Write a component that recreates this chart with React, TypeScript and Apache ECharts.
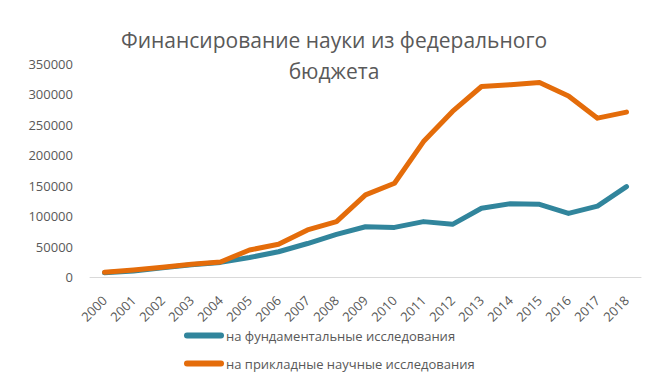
import React, { useEffect, useRef } from "react";
import * as echarts from "echarts";

const years = ["2000","2001","2002","2003","2004","2005","2006","2007","2008","2009","2010","2011","2012","2013","2014","2015","2016","2017","2018"];
const fundamental = [7000, 10000, 15000, 20000, 24000, 32000, 41500, 55000, 70000, 82500, 81500, 91000, 86500, 113000, 120500, 119500, 104500, 116500, 148500];
const applied = [7700, 11500, 16000, 20800, 24700, 44400, 53700, 77300, 91000, 135000, 154000, 222500, 272000, 313000, 316000, 319500, 297500, 261000, 271000];
const seriesNames = ["на фундаментальные исследования", "на прикладные научные исследования"];
const titleText = "Финансирование науки из федерального\nбюджета";

const capsule = "path://M3,0 L37,0 A3,3 0 0 1 37,6 L3,6 A3,3 0 0 1 3,0 Z";

export default function App() {
  const ref = useRef<HTMLDivElement>(null);
  useEffect(() => {
    const chart = echarts.init(ref.current!, null, { renderer: "svg" });
    const font = "'Open Sans', sans-serif";
    chart.setOption({
      animation: false,
      backgroundColor: "#ffffff",
      title: {
        text: titleText,
        left: 329,
        top: 19,
        textAlign: "center",
        textStyle: { fontFamily: font, fontSize: 21, fontWeight: "normal", color: "#595959", lineHeight: 31, align: "center" },
      },
      legend: {
        orient: "vertical",
        left: 179,
        top: 324,
        itemWidth: 40,
        itemHeight: 6,
        itemGap: 15,
        icon: capsule,
        textStyle: { fontFamily: font, fontSize: 13, color: "#595959", padding: [0, 0, 0, -3] },
        data: seriesNames,
      },
      grid: { left: 90, right: 25, top: 64, bottom: 114 },
      xAxis: {
        type: "category",
        data: years,
        boundaryGap: true,
        axisLine: { lineStyle: { color: "#d9d9d9", width: 1 } },
        axisTick: { show: false },
        axisLabel: { rotate: 45, fontFamily: font, fontSize: 13, color: "#595959", margin: 21, interval: 0 },
      },
      yAxis: {
        type: "value",
        min: 0,
        max: 350000,
        interval: 50000,
        splitLine: { show: false },
        axisLine: { show: false },
        axisTick: { show: false },
        axisLabel: { fontFamily: font, fontSize: 13, color: "#595959", margin: 17, formatter: (v: number) => String(v) },
      },
      series: [
        {
          name: seriesNames[0],
          type: "line",
          data: fundamental,
          symbol: "none",
          color: "#31859c",
          lineStyle: { width: 5, color: "#31859c", cap: "round", join: "round" },
        },
        {
          name: seriesNames[1],
          type: "line",
          data: applied,
          symbol: "none",
          color: "#e46c0a",
          lineStyle: { width: 5, color: "#e46c0a", cap: "round", join: "round" },
        },
      ],
    });
    return () => chart.dispose();
  }, []);
  return <div ref={ref} style={{ position: "fixed", left: 0, top: 0, width: 666, height: 391 }} />;
}
